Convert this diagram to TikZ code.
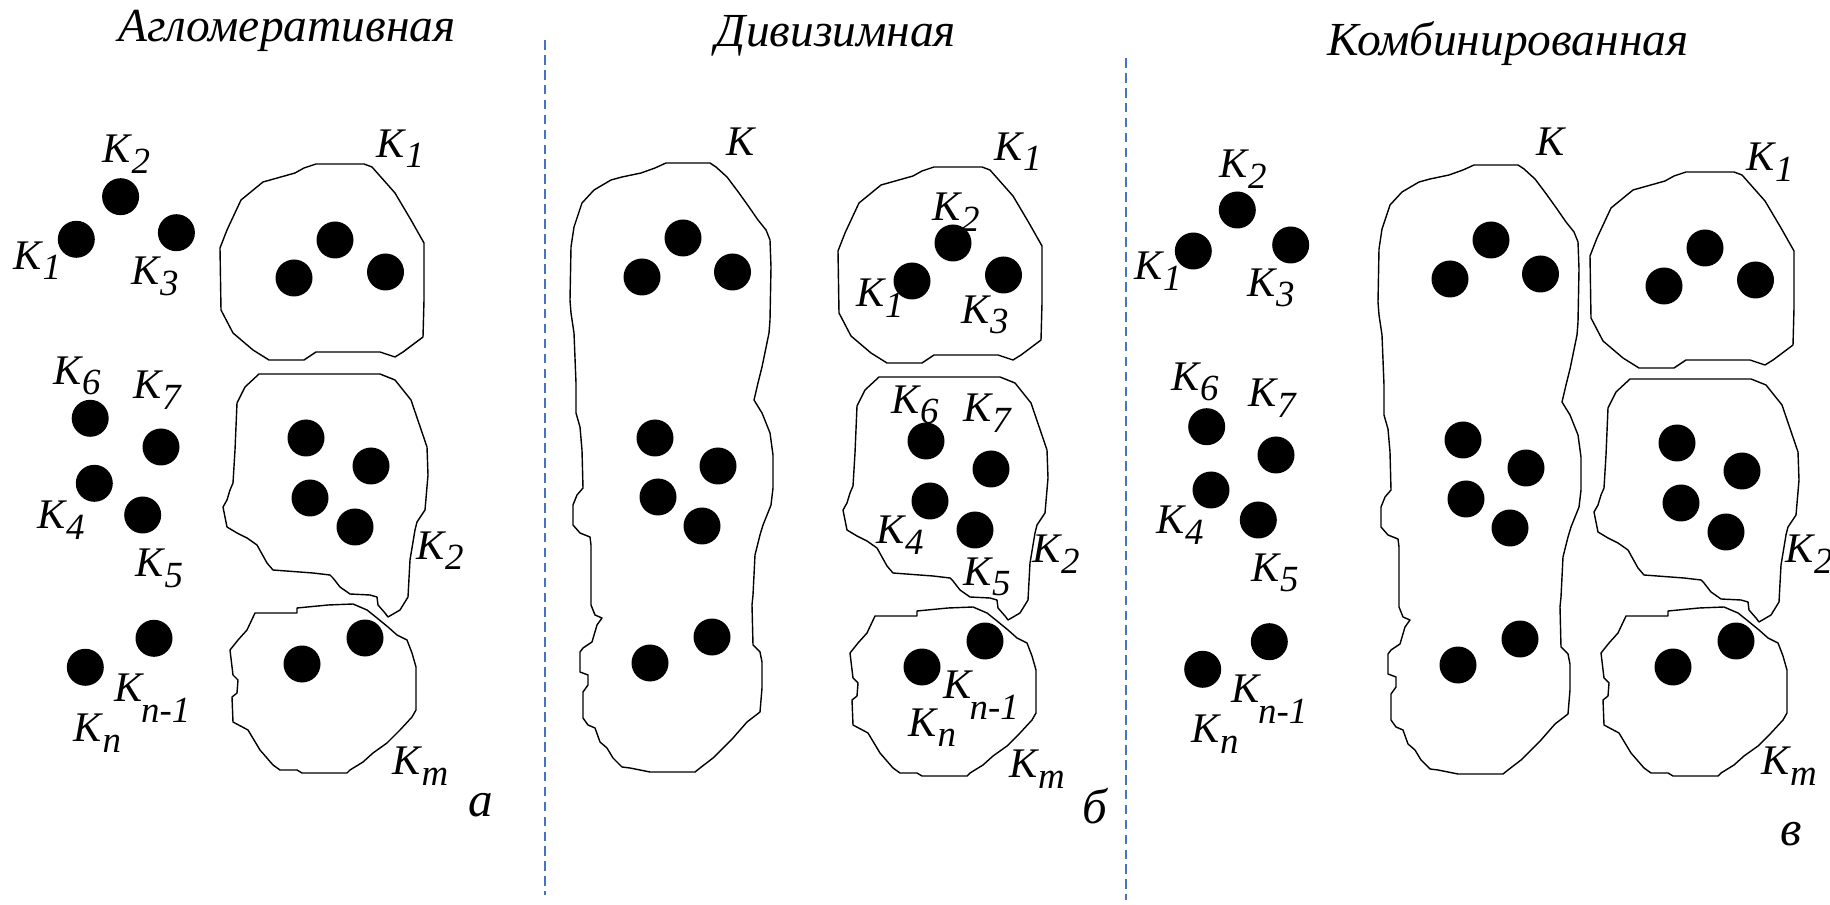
\documentclass[tikz,border=0pt]{standalone}
\usepackage{fontspec}
\newfontfamily\tnri{LiberationSerif-Italic.ttf}
\definecolor{sepblue}{RGB}{68,114,196}
\newcommand{\Kl}[1]{K\kern0.3pt\raisebox{-0.25em}{\fontsize{21}{21}\selectfont #1}}
\newcommand{\Kd}[1]{K\kern-1pt\raisebox{-0.5em}{\fontsize{21}{21}\selectfont #1}}
\tikzset{
  blob/.style={draw=black, line width=0.8pt, line join=round},
  dotr/.style={fill=black},
  lab/.style={inner sep=0pt, anchor=center, font=\tnri\fontsize{24}{24}\selectfont},
  ttl/.style={inner sep=0pt, anchor=base, font=\tnri\fontsize{27}{30}\selectfont},
  plet/.style={inner sep=0pt, anchor=center, font=\tnri\fontsize{28}{28}\selectfont},
  sepline/.style={draw=sepblue, line width=1pt, dash pattern=on 5.5pt off 3pt},
  clusterone/.pic={
    \draw[blob] (316,164) -- (364,164) -- (372,167) -- (395,193) -- (411,220) -- (424,243) -- (424,300) -- (423,337) -- (419,340) -- (403,352) -- (395,357) -- (380,352) -- (316,352) -- (304,360) -- (269,360) -- (253,350) -- (233,333) -- (221,310) -- (220,248) -- (227,230) -- (241,200) -- (263,182) -- (295,173) -- (304,168) -- cycle;
    \fill[dotr] (335,240) circle[radius=18.5] (294,278) circle[radius=18.5] (385.5,272) circle[radius=18.5];
  },
  clustertwo/.pic={
    \draw[blob] (259,374) -- (380,374) -- (395,380) -- (411,400) -- (427,447) -- (428,475) -- (425,510) -- (417,522) -- (415,530) -- (410,560) -- (408,597) -- (400,610) -- (388,617) -- (385,613) -- (378,605) -- (377,597) -- (370,595) -- (350,594) -- (340,587) -- (333,578) -- (330,575) -- (313,573) -- (273,570) -- (267,563) -- (257,545) -- (247,538) -- (237,533) -- (227,527) -- (223,507) -- (227,500) -- (230,490) -- (233,483) -- (235,450) -- (237,403) -- (245,387) -- cycle;
    \fill[dotr] (306,438) circle[radius=18.5] (371,466) circle[radius=18.5] (310,498) circle[radius=18.5] (355,527) circle[radius=18.5];
  },
  clusterm/.pic={
    \draw[blob] (255,613) -- (297,613) -- (297,608) -- (328,605) -- (353,604) -- (367,610) -- (377,618) -- (388,627) -- (397,635) -- (407,640) -- (412,653) -- (416,667) -- (416,710) -- (412,717) -- (400,730) -- (387,743) -- (373,753) -- (363,762) -- (350,770) -- (347,773) -- (302,773) -- (297,770) -- (280,770) -- (273,765) -- (260,750) -- (248,730) -- (233,722) -- (232,697) -- (237,693) -- (238,680) -- (233,675) -- (230,650) -- (238,640) -- (247,630) -- cycle;
    \fill[dotr] (365,638) circle[radius=18.5] (302,664) circle[radius=18.5];
  },
  clusterbig/.pic={
    \draw[blob] (666,163) -- (710,163) -- (716,167) -- (727,177) -- (739,193) -- (749,207) -- (758,220) -- (766,230) -- (770,240) -- (771,267) -- (770,320) -- (769,333) -- (762,367) -- (758,383) -- (754,400) -- (762,413) -- (770,433) -- (773,455) -- (773,488) -- (771,505) -- (767,515) -- (763,525) -- (760,535) -- (755,555) -- (753,595) -- (752,605) -- (753,645) -- (760,652) -- (762,662) -- (762,688) -- (760,712) -- (747,722) -- (733,738) -- (723,748) -- (713,758) -- (700,768) -- (695,772) -- (650,772) -- (630,768) -- (622,767) -- (613,758) -- (607,748) -- (600,742) -- (595,728) -- (588,725) -- (583,718) -- (583,692) -- (588,685) -- (588,675) -- (580,672) -- (580,652) -- (583,648) -- (592,642) -- (597,625) -- (602,618) -- (595,615) -- (591,605) -- (591,545) -- (590,537) -- (580,533) -- (573,525) -- (573,505) -- (577,495) -- (583,488) -- (582,450) -- (580,427) -- (576,413) -- (576,383) -- (574,333) -- (571,313) -- (570,300) -- (571,247) -- (574,227) -- (582,203) -- (594,190) -- (611,180) -- (622,177) -- (641,173) -- (655,168) -- cycle;
    \fill[dotr] (683,238) circle[radius=18.5] (642,277) circle[radius=18.5] (732.5,272) circle[radius=18.5]
      (655,438) circle[radius=18.5] (718,466) circle[radius=18.5] (658,497) circle[radius=18.5] (702,526) circle[radius=18.5]
      (712,637) circle[radius=18.5] (650,663) circle[radius=18.5];
  }
}
\begin{document}
\begin{tikzpicture}[x=0.02cm,y=-0.02cm]
\useasboundingbox (0,0) rectangle (1830,905);
\fill[white] (0,0) rectangle (1830,905);

% titles
\node[ttl] (t1) at (287,42) {Агломеративная};
\node[ttl] (t2) at (836,47) {Дивизимная};
\node[ttl] (t3) at (1508,56) {Комбинированная};

% separators
\coordinate (s1a) at (545,40);
\coordinate (s1b) at (545,895);
\coordinate (s2a) at (1126,58);
\coordinate (s2b) at (1126,900);
\draw[sepline] (s1a) -- (s1b);
\draw[sepline] (s2a) -- (s2b);

% ---------- panel a ----------
\fill[dotr] (120.6,196.7) circle[radius=18.5] (76.3,239.3) circle[radius=18.5] (176.4,232.7) circle[radius=18.5]
  (90.2,418.3) circle[radius=18.5] (161,447) circle[radius=18.5] (94.3,483.3) circle[radius=18.5] (142.7,515) circle[radius=18.5]
  (154,638.3) circle[radius=18.5] (85.3,667.3) circle[radius=18.5];
\pic at (0,0) {clusterone};
\pic at (0,0) {clustertwo};
\pic at (0,0) {clusterm};

\node[lab] (ka2) at (126.5,154) {\Kl{2}};
\node[lab] (ka1) at (37.5,260.5) {\Kl{1}};
\node[lab] (ka3) at (155,276.5) {\Kl{3}};
\node[lab] (ka6) at (77,376) {\Kl{6}};
\node[lab] (ka7) at (157,390) {\Kl{7}};
\node[lab] (ka4) at (61,520) {\Kl{4}};
\node[lab] (ka5) at (159.5,568.5) {\Kl{5}};
\node[lab] (kan1) at (152.5,698) {\Kd{n-1}};
\node[lab] (kan) at (97.5,733) {\Kl{n}};
\node[lab] (kac1) at (400.5,148.5) {\Kl{1}};
\node[lab] (kac2) at (440,550.5) {\Kl{2}};
\node[lab] (kacm) at (420.5,766) {\Kl{m}};
\node[plet] (la) at (481,805) {а};

% ---------- panel b ----------
\pic at (0,0) {clusterbig};
\pic at (618,3) {clusterone};
\pic at (620,3) {clustertwo};
\pic at (620,3) {clusterm};

\node[lab] (kbK) at (741,141.5) {K};
\node[lab] (kbc1) at (1018,151.5) {\Kl{1}};
\node[lab] (kb2) at (956,212) {\Kl{2}};
\node[lab] (kb1) at (880,298) {\Kl{1}};
\node[lab] (kb3) at (985,315) {\Kl{3}};
\node[lab] (kb6) at (915,405) {\Kl{6}};
\node[lab] (kb7) at (987,413) {\Kl{7}};
\node[lab] (kb4) at (900,535) {\Kl{4}};
\node[lab] (kb5) at (987,577) {\Kl{5}};
\node[lab] (kbc2) at (1056,554) {\Kl{2}};
\node[lab] (kbn1) at (981,695.5) {\Kd{n-1}};
\node[lab] (kbn) at (932.5,727.5) {\Kl{n}};
\node[lab] (kbcm) at (1037,769) {\Kl{m}};
\node[plet] (lb) at (1095,806) {б};

% ---------- panel v ----------
\fill[dotr] (1237.3,210) circle[radius=18.5] (1193.3,251) circle[radius=18.5] (1290.7,245) circle[radius=18.5]
  (1206.7,426.7) circle[radius=18.5] (1276,455) circle[radius=18.5] (1211,490) circle[radius=18.5] (1258.3,520) circle[radius=18.5]
  (1269.3,641.7) circle[radius=18.5] (1202.7,669.3) circle[radius=18.5];
\pic at (808,2) {clusterbig};
\pic at (1370,8) {clusterone};
\pic at (1371,5) {clustertwo};
\pic at (1371,3) {clusterm};

\node[lab] (kv2) at (1243,169) {\Kl{2}};
\node[lab] (kv1) at (1158,271) {\Kl{1}};
\node[lab] (kv3) at (1271,288) {\Kl{3}};
\node[lab] (kv6) at (1195,382) {\Kl{6}};
\node[lab] (kv7) at (1272,398) {\Kl{7}};
\node[lab] (kv4) at (1180,525) {\Kl{4}};
\node[lab] (kv5) at (1275,573) {\Kl{5}};
\node[lab] (kvn1) at (1269.5,699) {\Kd{n-1}};
\node[lab] (kvn) at (1215,734) {\Kl{n}};
\node[lab] (kvK) at (1551,142) {K};
\node[lab] (kvc1) at (1770,162) {\Kl{1}};
\node[lab] (kvc2) at (1809,554) {\Kl{2}};
\node[lab] (kvcm) at (1789,766) {\Kl{m}};
\node[plet] (lv) at (1791,834) {в};
\end{tikzpicture}
\end{document}
